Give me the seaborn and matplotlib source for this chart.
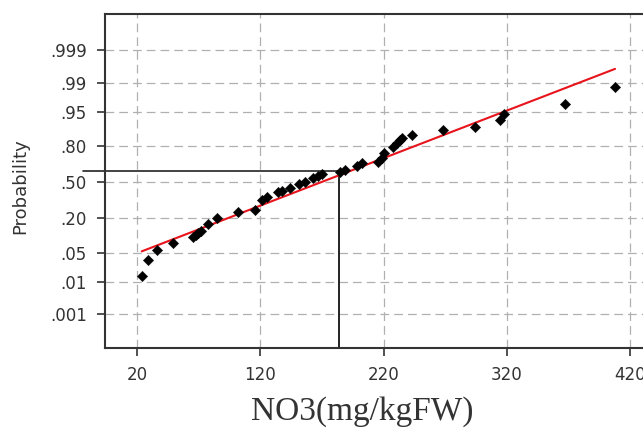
from statistics import NormalDist
import numpy as np
import pandas as pd
import matplotlib
matplotlib.use("Agg")
import matplotlib.pyplot as plt
import seaborn as sns

# NO3 values (mg/kgFW), sorted, and their plotted cumulative probability
no3 = [23.8, 29.2, 36.0, 49.0, 65.7, 67.9, 69.7, 71.9, 77.9, 85.2,
       102.2, 115.7, 121.4, 125.2, 134.6, 137.6, 144.1, 151.4, 156.3, 163.0,
       167.1, 169.9, 184.7, 188.8, 198.3, 202.3, 215.8, 218.5, 220.6, 228.0,
       230.7, 233.4, 234.8, 242.9, 268.5, 294.2, 314.5, 317.8, 367.3, 407.8]
prob = [0.0139, 0.0345, 0.0565, 0.0767, 0.099, 0.1087, 0.1163, 0.1286, 0.1645, 0.1997,
        0.2435, 0.2584, 0.3394, 0.368, 0.410, 0.419, 0.447, 0.484, 0.506, 0.543,
        0.561, 0.574, 0.598, 0.613, 0.651, 0.672, 0.685, 0.713, 0.751, 0.798,
        0.819, 0.839, 0.852, 0.866, 0.890, 0.903, 0.928, 0.944, 0.967, 0.987]

# fitted normal distribution (red line)
fit_mean = 169.1
fit_sd = 89.9

# reference point marked by the black cross lines
ref_x = 183.9
ref_p = 0.604
ref_x_left = -23.8

x_ticks = [20, 120, 220, 320, 420]
p_ticks = [0.001, 0.01, 0.05, 0.20, 0.50, 0.80, 0.95, 0.99, 0.999]
p_labels = [".001", ".01", ".05", ".20", ".50", ".80", ".95", ".99", ".999"]

nd = NormalDist()
z = lambda p: nd.inv_cdf(p)

sns.set_theme(style="ticks")
plt.rcParams['font.family'] = ['DejaVu Sans']

fig = plt.figure(figsize=(6.43, 4.28), dpi=100)
ax = fig.add_axes([105 / 643, 80 / 428, 544.8 / 643, 334 / 428])

df = pd.DataFrame({"no3": no3, "z": [z(p) for p in prob]})
fit_x = np.array([min(no3), max(no3)])
fit = pd.DataFrame({"no3": fit_x, "z": (fit_x - fit_mean) / fit_sd})

sns.lineplot(data=fit, x="no3", y="z", color="#e8141c", linewidth=1.5, ax=ax, zorder=3)
sns.scatterplot(data=df, x="no3", y="z", marker="D", s=28, color="black",
                edgecolor="black", linewidth=0.3, ax=ax, zorder=4)

# cross lines at the reference point
ax.plot([ref_x_left, ref_x], [z(ref_p), z(ref_p)], color="#222222", lw=1.2,
        clip_on=False, zorder=2)
ax.plot([ref_x, ref_x], [-3.879, z(ref_p)], color="#222222", lw=1.4, zorder=2)

ax.set_xlim(-6, 436)
ax.set_ylim(-3.879, 3.94)
ax.set_xticks(x_ticks)
ax.set_yticks([z(p) for p in p_ticks])
ax.set_yticklabels(p_labels)

ax.grid(True, color="#b0b0b0", linestyle=(0, (7, 4)), linewidth=0.9)
ax.set_axisbelow(True)

for s in ["left", "bottom", "top"]:
    ax.spines[s].set_color("#333333")
    ax.spines[s].set_linewidth(1.5)
ax.spines["right"].set_visible(False)

ax.tick_params(axis="both", direction="out", length=6, width=1.2, color="#333333",
               labelsize=12, labelcolor="#333333", pad=7)

ax.set_ylabel("Probability", fontsize=13, color="#333333")
ax.yaxis.set_label_coords(-0.139, 0.4835)
ax.set_xlabel("NO3(mg/kgFW)", fontsize=24, color="#333333",
              family=["Liberation Serif", "DejaVu Serif"])
ax.xaxis.set_label_coords(0.472, -0.144)

fig.savefig("out.png", dpi=100)
